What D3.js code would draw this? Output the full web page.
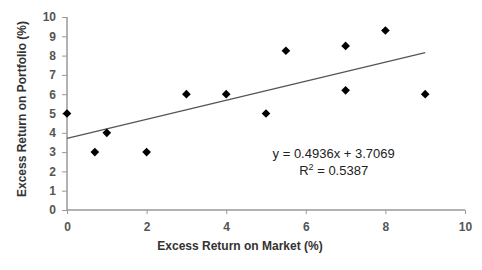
<!DOCTYPE html>
<html>
<head>
<meta charset="utf-8">
<script src="https://cdn.jsdelivr.net/npm/d3@7"></script>
<style>
  body { margin: 0; background: #fff; }
  text { font-family: "Liberation Sans", Arial, sans-serif; }
</style>
</head>
<body>
<svg id="chart" width="482" height="270"></svg>
<script>
'use strict';

// data
var marketReturn = [0, 0.7, 1, 2, 3, 4, 5, 5.5, 7, 7, 8, 9],
    portfolioReturn = [5, 3, 4, 3, 6, 6, 5, 8.25, 8.5, 6.2, 9.3, 6],
    xTicks = [0, 2, 4, 6, 8, 10],
    yTicks = [0, 1, 2, 3, 4, 5, 6, 7, 8, 9, 10],
    slope = 0.4936,
    intercept = 3.7069,
    rSquared = 0.5387;

var svg = d3.select('#chart'),
    margin = { top: 17, right: 17, bottom: 60, left: 67 },
    width = 482 - margin.left - margin.right,
    height = 270 - margin.top - margin.bottom,
    g = svg.append('g').attr('transform', 'translate(' + margin.left + ',' + margin.top + ')');

var x = d3.scaleLinear().domain([0, 10]).range([0, width]),
    y = d3.scaleLinear().domain([0, 10]).range([height, 0]);

// axes
var yAxis = g.append('g')
  .call(d3.axisLeft(y).tickValues(yTicks).tickSize(5).tickPadding(6).tickFormat(d3.format('d')));
var xAxis = g.append('g')
  .attr('transform', 'translate(0,' + height + ')')
  .call(d3.axisBottom(x).tickValues(xTicks).tickSize(4).tickPadding(8).tickFormat(d3.format('d')));

[xAxis, yAxis].forEach(function (a) {
  a.select('.domain').attr('stroke', '#999').attr('stroke-width', 1.5);
  a.selectAll('.tick line').attr('stroke', '#999');
  a.selectAll('.tick text').attr('fill', '#555').style('font-size', '12px').style('font-weight', 'bold');
});
// no end caps on the domain paths
yAxis.select('.domain').attr('d', 'M0,' + height + 'V0');
xAxis.select('.domain').attr('d', 'M0,0H' + width);

// trendline
var lineX = d3.extent(marketReturn);
g.append('line')
  .attr('x1', x(lineX[0])).attr('y1', y(intercept + slope * lineX[0]))
  .attr('x2', x(lineX[1])).attr('y2', y(intercept + slope * lineX[1]))
  .attr('stroke', '#555').attr('stroke-width', 1.3);

// points
g.selectAll('.pt')
  .data(marketReturn.map(function (d, i) { return [d, portfolioReturn[i]]; }))
  .enter().append('path')
  .attr('class', 'pt')
  .attr('d', d3.symbol().type(d3.symbolDiamond2).size(48))
  .attr('transform', function (d) { return 'translate(' + x(d[0]) + ',' + y(d[1]) + ')'; })
  .attr('fill', '#000');

// equation
var eq = g.append('text')
  .attr('x', x(6.7)).attr('y', y(2.7))
  .attr('text-anchor', 'middle')
  .style('font-size', '13px').attr('fill', '#222')
  .text('y = ' + slope + 'x + ' + intercept);
var r2 = g.append('text')
  .attr('x', x(6.7)).attr('y', y(1.8))
  .attr('text-anchor', 'middle')
  .style('font-size', '13px').attr('fill', '#222');
r2.append('tspan').text('R');
r2.append('tspan').attr('dy', -5).style('font-size', '9px').text('2');
r2.append('tspan').attr('dy', 5).text(' = ' + rSquared);

// axis titles
svg.append('text')
  .attr('x', 240).attr('y', 250)
  .attr('text-anchor', 'middle')
  .style('font-size', '12px').style('font-weight', 'bold').attr('fill', '#333')
  .text('Excess Return on Market (%)');
svg.append('text')
  .attr('transform', 'translate(26,109) rotate(-90)')
  .attr('text-anchor', 'middle')
  .style('font-size', '12px').style('font-weight', 'bold').attr('fill', '#333')
  .text('Excess Return on Portfolio (%)');
</script>
</body>
</html>
